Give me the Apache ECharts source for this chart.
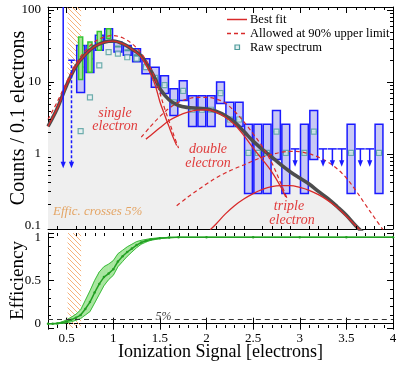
<!DOCTYPE html>
<html>
<head>
<meta charset="utf-8">
<script src="https://cdn.jsdelivr.net/npm/echarts@6/dist/echarts.min.js"></script>
<style>
html, body { margin: 0; padding: 0; background: #fff; }
#chart { width: 399px; height: 365px; }
</style>
</head>
<body>
<div id="chart"></div>
<script>
// ---- data ----
// total best fit (grey) and its single / double / triple electron parts
const totalX = [0.3,0.4,0.5,0.6,0.7,0.8,0.9,1.0,1.1,1.2,1.3,1.4,1.45,1.5,1.6,1.7,1.8,1.9,2.0,2.1,2.2,2.3,2.4,2.5,2.6,2.7,2.8,2.9,3.0,3.1,3.2,3.3,3.4,3.5,3.6,3.7,3.8];
const totalY = [2.4,4.3,9,16.5,24,31,35.5,37,34,28.5,23,14.5,11,8,5.6,4.7,4.4,4.3,4.2,3.9,3.4,2.75,2.05,1.5,1.15,0.9,0.7,0.56,0.46,0.38,0.3,0.24,0.185,0.14,0.1,0.075,0.055];
const singleX = [0.3,0.4,0.5,0.6,0.7,0.8,0.9,1.0,1.1,1.2,1.3,1.4,1.45,1.5,1.55,1.6,1.65,1.68];
const singleY = [2.4,4.3,9,16.5,24,31,35.5,37,34,28.5,22,13,9,5.3,3.5,2.35,1.6,1.3];
const doubleX = [1.35,1.4,1.5,1.6,1.7,1.8,1.9,2.0,2.1,2.2,2.3,2.4,2.5,2.6,2.7,2.8,2.85];
const doubleY = [1.6,1.8,2.3,2.9,3.4,3.8,4.05,4.1,3.8,3.25,2.55,1.8,1.2,0.83,0.56,0.34,0.25];
const tripleX = [2.04,2.1,2.2,2.3,2.4,2.5,2.6,2.7,2.8,2.9,3.0,3.1,3.2,3.3,3.4,3.5,3.6,3.7,3.8];
const tripleY = [0.088,0.105,0.145,0.19,0.235,0.28,0.32,0.35,0.36,0.36,0.34,0.31,0.27,0.225,0.18,0.135,0.1,0.073,0.052];
// 90% upper limit curves (dashed)
const singleLimX = [0.3,0.4,0.5,0.6,0.7,0.8,0.9,1.0,1.1,1.2,1.3,1.4,1.45,1.5,1.55,1.6,1.65,1.7];
const singleLimY = [3.0,5.3,10,18,27,36,42,44,41,34,25,15.5,11,7,4.3,2.8,1.8,1.2];
const doubleLimX = [1.3,1.4,1.5,1.6,1.7,1.8,1.9,2.0,2.1,2.2,2.3,2.4,2.5,2.6,2.7,2.8,2.87];
const doubleLimY = [1.7,2.4,3.3,4.3,5.2,5.8,6.1,6.1,5.8,5.1,3.9,2.8,1.9,1.25,0.75,0.38,0.23];
const tripleLimX = [1.68,1.8,1.9,2.0,2.1,2.2,2.3,2.4,2.5,2.6,2.7,2.8,2.9,3.0,3.1,3.2,3.3,3.4,3.5,3.6,3.7,3.8,3.9];
const tripleLimY = [0.19,0.25,0.31,0.38,0.46,0.54,0.62,0.7,0.8,0.9,0.98,1.05,1.08,1.07,1.0,0.9,0.77,0.62,0.46,0.31,0.2,0.13,0.085];

// measured spectrum, bins of 0.1 electrons
const binX = [0.65,0.75,0.85,0.95,1.05,1.15,1.25,1.35,1.45,1.55,1.65,1.75,1.85,1.95,2.05,2.15,2.25,2.35,2.45,2.55,2.65,2.75,2.85,3.05,3.15,3.55,3.85];
const boxLo = [7.1,13.5,27.5,36,26,23.4,19,13,8.4,6.9,3.4,5.5,2.4,2.4,2.4,5,2.4,2.4,0.28,0.28,0.28,0.83,0.28,0.28,0.83,0.28,0.28];
const boxMid = [16,21,35,45,31,27.5,23.5,16.5,11.5,9,5.2,7.5,4.1,4.1,4.1,7,3,3,1.03,1.03,1.03,2.03,1.03,1.03,2.03,1.03,1.03];
const boxHi = [32,32,44.6,55,36,32,29,21,16,12.2,8,10.4,6.4,6.4,6.4,10,5.2,5.2,2.57,2.57,2.57,4,2.57,2.57,4,2.57,2.57];
const rawY = [2.07,6.1,17,26,24.7,22,21,16,11.4,9,5.2,7.5,4.1,4.1,4.1,7,3,3,1.03,1.03,1.03,2.03,1.03,1.03,2.03,1.03,1.03];
const greenX = [0.65,0.75,0.85,0.95];
const greenLo = [10.8,13.6,27.5,40];
const greenHi = [42,36,50,55];

// upper limits (arrows)
const solidLimX = [0.463], solidLimTop = [300], solidLimEnd = [0.63];
const dashLimX = [0.552], dashLimTop = [20], dashLimEnd = [0.63];
const rightLimX = [2.95,3.25,3.35,3.45,3.65,3.75];
const rightLimTop = [1.17,1.17,1.17,1.17,1.17,1.17];
const rightLimEnd = [0.66,0.66,0.66,0.66,0.66,0.66];

// efficiency panel
const effX = [0.3,0.35,0.4,0.45,0.5,0.55,0.6,0.65,0.7,0.75,0.8,0.85,0.9,0.95,1.0,1.05,1.1,1.15,1.2,1.25,1.3,1.35,1.4,1.5,1.6,1.7,2.0,2.5,3.0,3.5,4.0];
const effMid = [0,0,0.003,0.01,0.025,0.045,0.07,0.1,0.17,0.25,0.36,0.46,0.54,0.58,0.63,0.72,0.78,0.83,0.87,0.91,0.94,0.96,0.975,0.99,0.998,1,1,1,1,1,1];
const effLo = [0,0,0,0.003,0.012,0.022,0.04,0.06,0.1,0.14,0.24,0.34,0.44,0.51,0.56,0.66,0.72,0.78,0.83,0.88,0.92,0.945,0.965,0.985,0.995,1,1,1,1,1,1];
const effHi = [0,0.002,0.008,0.02,0.045,0.075,0.11,0.16,0.27,0.38,0.5,0.6,0.66,0.69,0.73,0.81,0.85,0.89,0.92,0.95,0.965,0.975,0.985,0.995,1,1,1,1,1,1,1];
const fivePct = 0.05;
const crossBand = [0.51, 0.655];

// ticks
const xTickLabels = ['0.5','1','1.5','2','2.5','3','3.5','4'];
const countTickLabels = ['0.1','1','10','100'];
const effTickLabels = ['0','0.5','1'];
const xMinorTicks = [0.4,0.6,0.7,0.8,0.9,1.1,1.2,1.3,1.4,1.6,1.7,1.8,1.9,2.1,2.2,2.3,2.4,2.6,2.7,2.8,2.9,3.1,3.2,3.3,3.4,3.6,3.7,3.8,3.9];
const countMinorTicks = [0.2,0.3,0.4,0.5,0.6,0.7,0.8,0.9,2,3,4,5,6,7,8,9,20,30,40,50,60,70,80,90];
const effMinorTicks = [0.1,0.2,0.3,0.4,0.6,0.7,0.8,0.9];

// ---- styling ----
const serif = '"Liberation Serif", "DejaVu Serif", serif';
const blue = '#1a1aff';
const red = '#d82a2a';
const teal = '#4f9c9c';

const pairs = (xs, ys) => xs.map((x, i) => [x, ys[i]]);
const pickLabel = (labels) => (v) => {
  const hit = labels.find(l => Math.abs(parseFloat(l) - v) < 1e-6 * Math.max(1, Math.abs(v)));
  return hit === undefined ? '' : hit;
};

const hatch = document.createElement('canvas');
hatch.width = hatch.height = 5;
const hctx = hatch.getContext('2d');
hctx.strokeStyle = '#f6b27a';
hctx.lineWidth = 1;
hctx.beginPath();
hctx.moveTo(0, 0); hctx.lineTo(5, 5);
hctx.moveTo(-1, 4); hctx.lineTo(1, 6);
hctx.moveTo(4, -1); hctx.lineTo(6, 1);
hctx.stroke();
const hatchArea = {
  silent: true,
  itemStyle: { color: { image: hatch, repeat: 'repeat' } },
  data: [[{ xAxis: crossBand[0] }, { xAxis: crossBand[1] }]]
};

function boxItem(halfW, stroke, fill, midColor) {
  return function (params, api) {
    const x = api.value(0);
    const a = api.coord([x - halfW, api.value(2)]);
    const b = api.coord([x + halfW, api.value(1)]);
    const kids = [{
      type: 'rect',
      shape: { x: a[0], y: a[1], width: b[0] - a[0], height: b[1] - a[1] },
      style: { fill: fill, stroke: stroke, lineWidth: 1.5 }
    }];
    if (midColor) {
      const m = api.coord([x, api.value(3)]);
      kids.push({ type: 'line', shape: { x1: a[0] + 1, y1: m[1], x2: b[0] - 1, y2: m[1] },
        style: { stroke: midColor, lineWidth: 2 } });
    }
    return { type: 'group', children: kids };
  };
}

function limitItem(capHalf, dash) {
  return function (params, api) {
    const x = api.value(0), top = api.value(1), end = api.value(2);
    const t = api.coord([x, top]);
    const e = api.coord([x, end]);
    const l = api.coord([x - capHalf, top]);
    const r = api.coord([x + capHalf, top]);
    return {
      type: 'group',
      children: [
        { type: 'line', shape: { x1: l[0], y1: t[1], x2: r[0], y2: t[1] }, style: { stroke: blue, lineWidth: 1.5 } },
        { type: 'line', shape: { x1: t[0], y1: t[1], x2: e[0], y2: e[1] - 5 }, style: { stroke: blue, lineWidth: 1.5, lineDash: dash } },
        { type: 'polygon', shape: { points: [[e[0] - 2.6, e[1] - 6.5], [e[0] + 2.6, e[1] - 6.5], [e[0], e[1]]] }, style: { fill: blue } }
      ]
    };
  };
}

// one quad of the efficiency band between point i and i+1
function bandItem(params, api) {
  const a = api.coord([api.value(0), api.value(1)]);
  const b = api.coord([api.value(3), api.value(4)]);
  const c = api.coord([api.value(3), api.value(5)]);
  const d = api.coord([api.value(0), api.value(2)]);
  return { type: 'polygon', shape: { points: [a, b, c, d] },
    style: { fill: '#a9e6a0', stroke: '#a9e6a0', lineWidth: 0.6 } };
}

function xMinorItem(params, api) {
  const cs = params.coordSys;
  const px = Math.round(api.coord([api.value(0), api.value(1)])[0]) + 0.5;
  const st = { stroke: '#000', lineWidth: 1 };
  return { type: 'group', children: [
    { type: 'line', shape: { x1: px, y1: cs.y + cs.height, x2: px, y2: cs.y + cs.height - 3 }, style: st },
    { type: 'line', shape: { x1: px, y1: cs.y, x2: px, y2: cs.y + 3 }, style: st }
  ] };
}
function yMinorItem(params, api) {
  const cs = params.coordSys;
  const py = Math.round(api.coord([api.value(0), api.value(1)])[1]) + 0.5;
  const st = { stroke: '#000', lineWidth: 1 };
  return { type: 'group', children: [
    { type: 'line', shape: { x1: cs.x, y1: py, x2: cs.x + 3, y2: py }, style: st },
    { type: 'line', shape: { x1: cs.x + cs.width, y1: py, x2: cs.x + cs.width - 3, y2: py }, style: st }
  ] };
}

function xAxisDef(grid, pos, withLabels) {
  return {
    gridIndex: grid, type: 'value', position: pos, min: 0.3, max: 4, splitNumber: 7,
    axisLine: { lineStyle: { color: '#000', width: 1 } },
    axisTick: { inside: true, length: 6, lineStyle: { color: '#000', width: 1 } },
    splitLine: { show: false },
    axisLabel: withLabels
      ? { show: true, formatter: pickLabel(xTickLabels), color: '#000', fontSize: 13, fontFamily: serif, margin: 4, showMinLabel: true, showMaxLabel: true }
      : { show: false },
    name: withLabels ? 'Ionization Signal [electrons]' : '',
    nameLocation: 'middle', nameGap: 15, nameMoveOverlap: false,
    nameTextStyle: { fontSize: 18, fontFamily: serif, color: '#000' }
  };
}

const grid0Line = { xAxisIndex: 0, yAxisIndex: 0, type: 'line', symbol: 'none', smooth: 0.35, silent: true };
const txt = (x, y, text, font, fill, align) => ({
  type: 'text', x: x, y: y, z: 100,
  style: { text: text, font: font, fill: fill, align: align || 'center', verticalAlign: 'middle' }
});

const option = {
  animation: false,
  backgroundColor: '#fff',
  textStyle: { fontFamily: serif },
  grid: [
    { left: 48, right: 6, top: 7, height: 222, containLabel: false, outerBoundsMode: 'none' },
    { left: 48, right: 6, top: 233, height: 95, containLabel: false, outerBoundsMode: 'none' }
  ],
  xAxis: [
    xAxisDef(0, 'bottom', false),
    xAxisDef(0, 'top', false),
    xAxisDef(1, 'bottom', true),
    xAxisDef(1, 'top', false)
  ],
  yAxis: [
    {
      gridIndex: 0, type: 'log', logBase: 10, min: 0.09, max: 110, position: 'left',
      axisLine: { lineStyle: { color: '#000' } },
      axisTick: { inside: true, length: 6, lineStyle: { color: '#000' } },
      splitLine: { show: false },
      axisLabel: { formatter: pickLabel(countTickLabels), color: '#000', fontSize: 13, fontFamily: serif, margin: 7, showMinLabel: true, showMaxLabel: true },
      name: 'Counts / 0.1 electrons', nameLocation: 'middle', nameRotate: 90, nameGap: 19, nameMoveOverlap: false,
      nameTextStyle: { fontSize: 20, fontFamily: serif, color: '#000' }
    },
    {
      gridIndex: 0, type: 'log', logBase: 10, min: 0.09, max: 110, position: 'right',
      axisLine: { lineStyle: { color: '#000' } },
      axisTick: { inside: true, length: 6, lineStyle: { color: '#000' } },
      splitLine: { show: false }, axisLabel: { show: false }
    },
    {
      gridIndex: 1, type: 'value', min: -0.05, max: 1.05, splitNumber: 2, position: 'left',
      axisLine: { lineStyle: { color: '#000' } },
      axisTick: { inside: true, length: 6, lineStyle: { color: '#000' } },
      splitLine: { show: false },
      axisLabel: { formatter: pickLabel(effTickLabels), color: '#000', fontSize: 13, fontFamily: serif, margin: 7, showMinLabel: true, showMaxLabel: true },
      name: 'Efficiency', nameLocation: 'middle', nameRotate: 90, nameGap: 20, nameMoveOverlap: false,
      nameTextStyle: { fontSize: 19, fontFamily: serif, color: '#000' }
    },
    {
      gridIndex: 1, type: 'value', min: -0.05, max: 1.05, splitNumber: 2, position: 'right',
      axisLine: { lineStyle: { color: '#000' } },
      axisTick: { inside: true, length: 6, lineStyle: { color: '#000' } },
      splitLine: { show: false }, axisLabel: { show: false }
    }
  ],
  series: [
    // grey area under the total fit + hatched efficiency band
    Object.assign({}, grid0Line, {
      name: 'fill', data: pairs(totalX, totalY), z: 1,
      lineStyle: { width: 0 },
      areaStyle: { color: '#efefef', opacity: 1, origin: 'start' },
      markArea: hatchArea
    }),
    {
      type: 'custom', name: 'spectrum', xAxisIndex: 0, yAxisIndex: 0, z: 2, clip: true, silent: true,
      renderItem: boxItem(0.042, blue, '#c9c9f4', teal),
      data: binX.map((x, i) => [x, boxLo[i], boxHi[i], boxMid[i]])
    },
    {
      type: 'custom', name: 'corrected', xAxisIndex: 0, yAxisIndex: 0, z: 3, clip: true, silent: true,
      renderItem: boxItem(0.022, '#35c435', '#a9e59a', null),
      data: greenX.map((x, i) => [x, greenLo[i], greenHi[i], 0])
    },
    {
      type: 'scatter', name: 'Raw spectrum', xAxisIndex: 0, yAxisIndex: 0, z: 4, silent: true,
      symbol: 'rect', symbolSize: 5,
      itemStyle: { color: '#e4f0f0', borderColor: teal, borderWidth: 1.2 },
      data: pairs(binX, rawY)
    },
    Object.assign({}, grid0Line, {
      name: 'total', data: pairs(totalX, totalY), z: 5,
      lineStyle: { color: '#4d4d4d', width: 3.6 }
    }),
    Object.assign({}, grid0Line, { name: 'single', data: pairs(singleX, singleY), z: 6, lineStyle: { color: red, width: 1.3 } }),
    Object.assign({}, grid0Line, { name: 'double', data: pairs(doubleX, doubleY), z: 6, lineStyle: { color: red, width: 1.3 } }),
    Object.assign({}, grid0Line, { name: 'triple', data: pairs(tripleX, tripleY), z: 6, lineStyle: { color: red, width: 1.3 } }),
    Object.assign({}, grid0Line, { name: 'single90', data: pairs(singleLimX, singleLimY), z: 6, lineStyle: { color: red, width: 1.2, type: [4, 3] } }),
    Object.assign({}, grid0Line, { name: 'double90', data: pairs(doubleLimX, doubleLimY), z: 6, lineStyle: { color: red, width: 1.2, type: [4, 3] } }),
    Object.assign({}, grid0Line, { name: 'triple90', data: pairs(tripleLimX, tripleLimY), z: 6, lineStyle: { color: red, width: 1.2, type: [4, 3] } }),
    {
      type: 'custom', name: 'limit solid', xAxisIndex: 0, yAxisIndex: 0, z: 7, clip: true, silent: true,
      renderItem: limitItem(0.035, null),
      data: solidLimX.map((x, i) => [x, solidLimTop[i], solidLimEnd[i]])
    },
    {
      type: 'custom', name: 'limit dashed', xAxisIndex: 0, yAxisIndex: 0, z: 7, clip: true, silent: true,
      renderItem: limitItem(0.035, [3, 2]),
      data: dashLimX.map((x, i) => [x, dashLimTop[i], dashLimEnd[i]])
    },
    {
      type: 'custom', name: 'limit right', xAxisIndex: 0, yAxisIndex: 0, z: 7, clip: true, silent: true,
      renderItem: limitItem(0.047, null),
      data: rightLimX.map((x, i) => [x, rightLimTop[i], rightLimEnd[i]])
    },
    {
      type: 'custom', xAxisIndex: 0, yAxisIndex: 0, z: 10, silent: true,
      renderItem: xMinorItem, data: xMinorTicks.map(v => [v, 1])
    },
    {
      type: 'custom', xAxisIndex: 0, yAxisIndex: 0, z: 10, silent: true,
      renderItem: yMinorItem, data: countMinorTicks.map(v => [1, v])
    },

    // efficiency panel
    {
      type: 'custom', name: 'effBand', xAxisIndex: 2, yAxisIndex: 2, z: 2, clip: true, silent: true,
      renderItem: bandItem,
      data: effX.slice(0, -1).map((x, i) => [x, effLo[i], effHi[i], effX[i + 1], effLo[i + 1], effHi[i + 1]]),
      markArea: hatchArea
    },
    {
      type: 'line', name: 'effLo', xAxisIndex: 2, yAxisIndex: 2, symbol: 'none', silent: true, z: 3,
      lineStyle: { color: '#3cbc3c', width: 1 },
      data: pairs(effX, effLo)
    },
    {
      type: 'line', name: 'effHi', xAxisIndex: 2, yAxisIndex: 2, symbol: 'none', silent: true, z: 3,
      lineStyle: { color: '#3cbc3c', width: 1 },
      data: pairs(effX, effHi)
    },
    {
      type: 'line', name: 'Efficiency', xAxisIndex: 2, yAxisIndex: 2, silent: true, z: 4,
      symbol: 'circle', symbolSize: 2.5,
      itemStyle: { color: '#23a023' },
      lineStyle: { color: '#23a023', width: 1.5 },
      data: pairs(effX, effMid),
      markLine: {
        silent: true, symbol: 'none', label: { show: false },
        lineStyle: { color: '#333', width: 1, type: [5, 4] },
        data: [
          [{ coord: [0.3, fivePct] }, { coord: [1.43, fivePct] }],
          [{ coord: [1.66, fivePct] }, { coord: [4, fivePct] }]
        ]
      }
    },
    {
      type: 'custom', xAxisIndex: 2, yAxisIndex: 2, z: 10, silent: true,
      renderItem: xMinorItem, data: xMinorTicks.map(v => [v, 0.5])
    },
    {
      type: 'custom', xAxisIndex: 2, yAxisIndex: 2, z: 10, silent: true,
      renderItem: yMinorItem, data: effMinorTicks.map(v => [1, v])
    }
  ],
  graphic: [
    // legend
    { type: 'line', z: 100, shape: { x1: 227, y1: 19.5, x2: 247, y2: 19.5 }, style: { stroke: red, lineWidth: 1.5 } },
    txt(250, 19.5, 'Best fit', '12.5px ' + serif, '#000', 'left'),
    { type: 'line', z: 100, shape: { x1: 227, y1: 33.5, x2: 247, y2: 33.5 }, style: { stroke: red, lineWidth: 1.3, lineDash: [4, 3] } },
    txt(250, 33.5, 'Allowed at 90% upper limit', '12.5px ' + serif, '#000', 'left'),
    { type: 'rect', z: 100, shape: { x: 235, y: 45, width: 4.5, height: 4.5 }, style: { fill: '#e4f0f0', stroke: teal, lineWidth: 1.2 } },
    txt(250, 47.5, 'Raw spectrum', '12.5px ' + serif, '#000', 'left'),
    // annotations
    txt(115, 113, 'single', 'italic 14px ' + serif, '#e03a3a'),
    txt(115, 126, 'electron', 'italic 14px ' + serif, '#e03a3a'),
    txt(208, 149, 'double', 'italic 14px ' + serif, '#e03a3a'),
    txt(208, 163, 'electron', 'italic 14px ' + serif, '#e03a3a'),
    txt(289, 206, 'triple', 'italic 14px ' + serif, '#e03a3a'),
    txt(292, 220, 'electron', 'italic 14px ' + serif, '#e03a3a'),
    txt(53, 212, 'Effic. crosses 5%', 'italic 13px ' + serif, '#e4a565', 'left'),
    txt(163.5, 317, '5%', 'italic 12px ' + serif, '#444')
  ]
};

const chart = echarts.init(document.getElementById('chart'));
chart.setOption(option);
</script>
</body>
</html>
